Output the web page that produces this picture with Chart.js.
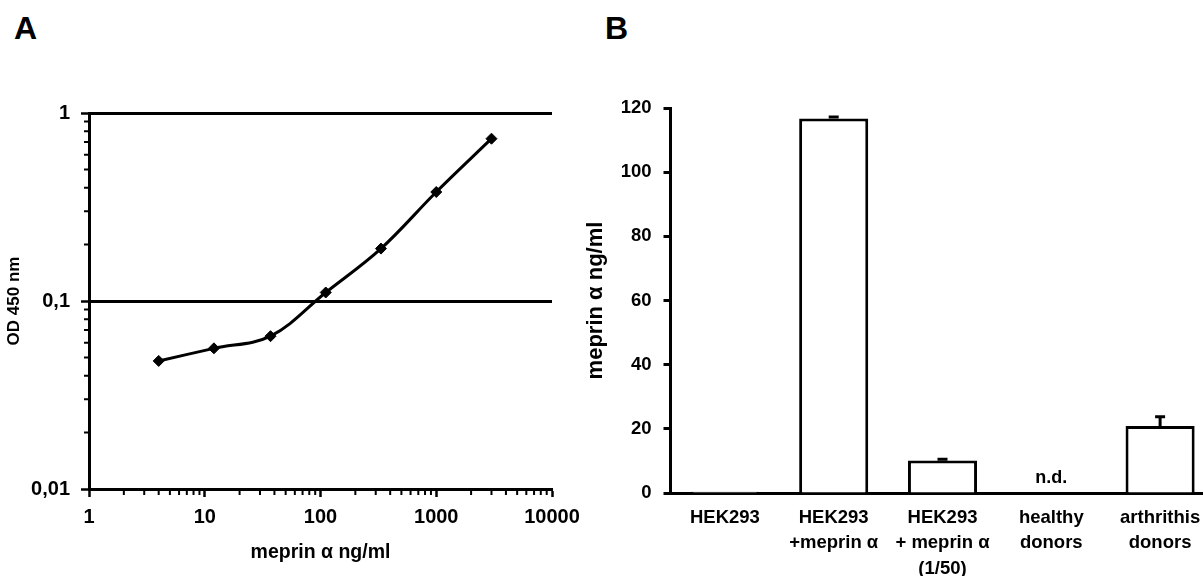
<!DOCTYPE html>
<html>
<head>
<meta charset="utf-8">
<script src="https://cdn.jsdelivr.net/npm/chart.js@4"></script>
<style>
  html, body { margin: 0; padding: 0; background: #fff; overflow: hidden; }
  body { width: 1203px; height: 576px; position: relative; font-family: "Liberation Sans", Arial, sans-serif; }
  .panel { position: absolute; font-weight: bold; font-size: 32px; line-height: 32px; color: #000; }
  #odChart { position: absolute; left: 0; top: 0; }
  #barChart { position: absolute; left: 580px; top: 0; }
</style>
</head>
<body>
<div class="panel" style="left:14px; top:12px;">A</div>
<div class="panel" style="left:605px; top:12px;">B</div>
<canvas id="odChart" width="600" height="576"></canvas>
<canvas id="barChart" width="650" height="576"></canvas>
<script>
/** data, panel A (standard curve) **/
var concentrations = [4, 12, 37, 111, 333, 1000, 3000];
var odValues = [0.048, 0.056, 0.065, 0.111, 0.19, 0.38, 0.73];
var xTicksA = [1, 10, 100, 1000, 10000];
var yTicksA = [0.01, 0.1, 1];

/** data, panel B (samples) **/
var sampleLabels = [
  ['HEK293'],
  ['HEK293', '+meprin α'],
  ['HEK293', '+ meprin α', '(1/50)'],
  ['healthy', 'donors'],
  ['arthrithis', 'donors']
];
var meprinLevels = [0.4, 116.7, 10.1, null, 20.9];
var meprinErrors = [0, 0.5, 0.4, null, 2.9];
var notDetected = [false, false, false, true, false];
var yTicksB = [0, 20, 40, 60, 80, 100, 120];

var FONT = '"Liberation Sans", Arial, sans-serif';
Chart.defaults.font.family = FONT;
Chart.defaults.color = '#000';

// small ticks between decades on the log axes
var minorTicks = {
  id: 'minorTicks',
  afterDraw: function(chart) {
    var ctx = chart.ctx;
    var xs = chart.scales.x, ys = chart.scales.y;
    ctx.save();
    ctx.strokeStyle = '#000';
    ctx.lineWidth = 2;
    ctx.beginPath();
    for (var d = 1; d < 10000; d *= 10) {
      for (var m = 2; m <= 9; m++) {
        var px = xs.getPixelForValue(d * m);
        ctx.moveTo(px, xs.top);
        ctx.lineTo(px, xs.top + 6);
      }
    }
    for (var e = 0.01; e < 1; e *= 10) {
      for (var k = 2; k <= 9; k++) {
        var py = ys.getPixelForValue(e * k);
        ctx.moveTo(ys.right, py);
        ctx.lineTo(ys.right - 5, py);
      }
    }
    ctx.stroke();
    ctx.restore();
  }
};

var ctxA = document.getElementById('odChart');
var odChart = new Chart(ctxA, {
  type: 'line',
  data: {
    datasets: [{
      data: concentrations.map(function(c, i) { return {x: c, y: odValues[i]}; }),
      borderColor: '#000',
      borderWidth: 3,
      tension: 0.35,
      pointStyle: 'rectRot',
      pointRadius: 5.5,
      pointBackgroundColor: '#000',
      pointBorderColor: '#000',
      pointBorderWidth: 1,
      fill: false
    }]
  },
  options: {
    responsive: false,
    maintainAspectRatio: false,
    animation: false,
    events: [],
    layout: { padding: { left: 0, top: 113, right: 48, bottom: 0 } },
    plugins: { legend: { display: false }, tooltip: { enabled: false } },
    scales: {
      x: {
        type: 'logarithmic',
        min: 1, max: 10000,
        afterBuildTicks: function(scale) { scale.ticks = xTicksA.map(function(v) { return {value: v}; }); },
        afterFit: function(scale) { scale.height = 87; },
        grid: { drawOnChartArea: false, drawTicks: true, tickLength: 8, tickColor: '#000', tickWidth: 2.5 },
        border: { color: '#000', width: 3 },
        ticks: {
          autoSkip: false, maxRotation: 0, padding: 8,
          font: { size: 20, weight: 'bold' },
          callback: function(v) { return String(v); }
        },
        title: { display: true, text: 'meprin α ng/ml', font: { size: 19.5, weight: 'bold' }, padding: { top: 4, bottom: 12 } }
      },
      y: {
        type: 'logarithmic',
        min: 0.01, max: 1,
        afterBuildTicks: function(scale) { scale.ticks = yTicksA.map(function(v) { return {value: v}; }); },
        afterFit: function(scale) { scale.width = 89; },
        grid: {
          drawOnChartArea: true, drawTicks: true, tickLength: 8, tickColor: '#000', tickWidth: 2.5,
          lineWidth: 3,
          color: function(c) { return c.tick && c.tick.value > 0.011 ? '#000' : 'rgba(0,0,0,0)'; }
        },
        border: { color: '#000', width: 3 },
        ticks: {
          autoSkip: false, padding: 11,
          font: { size: 20, weight: 'bold' },
          callback: function(v) { return String(v).replace('.', ','); }
        },
        title: { display: true, text: 'OD 450 nm', font: { size: 17, weight: 'bold' }, padding: { top: 4, bottom: 4 } }
      }
    }
  },
  plugins: [minorTicks]
});

// error bars + "n.d." for the bar chart
var barExtras = {
  id: 'barExtras',
  afterDatasetsDraw: function(chart) {
    var ctx = chart.ctx;
    var meta = chart.getDatasetMeta(0);
    var ys = chart.scales.y, xs = chart.scales.x;
    ctx.save();
    ctx.strokeStyle = '#000';
    ctx.lineWidth = 3;
    meta.data.forEach(function(bar, i) {
      if (meprinLevels[i] == null || !meprinErrors[i]) return;
      var top = ys.getPixelForValue(meprinLevels[i] + meprinErrors[i]);
      var base = ys.getPixelForValue(meprinLevels[i]);
      ctx.beginPath();
      ctx.moveTo(bar.x, base);
      ctx.lineTo(bar.x, top);
      ctx.moveTo(bar.x - 5, top);
      ctx.lineTo(bar.x + 5, top);
      ctx.stroke();
    });
    ctx.fillStyle = '#000';
    ctx.font = 'bold 18px ' + FONT;
    ctx.textAlign = 'center';
    ctx.textBaseline = 'alphabetic';
    notDetected.forEach(function(nd, i) {
      if (!nd) return;
      ctx.fillText('n.d.', xs.getPixelForValue(i), ys.getPixelForValue(0) - 10);
    });
    ctx.restore();
  }
};

var ctxB = document.getElementById('barChart');
var barChart = new Chart(ctxB, {
  type: 'bar',
  data: {
    labels: sampleLabels,
    datasets: [{
      data: meprinLevels,
      backgroundColor: '#fff',
      borderColor: '#000',
      borderWidth: 3,
      borderSkipped: 'bottom',
      categoryPercentage: 1,
      barPercentage: 0.635
    }]
  },
  options: {
    responsive: false,
    maintainAspectRatio: false,
    animation: false,
    events: [],
    layout: { padding: { left: 0, top: 108, right: 15.5, bottom: 0 } },
    plugins: { legend: { display: false }, tooltip: { enabled: false } },
    scales: {
      x: {
        z: 1,
        afterFit: function(scale) { scale.height = 83; },
        grid: { display: false, drawTicks: false },
        border: { color: '#000', width: 3 },
        ticks: {
          autoSkip: false, maxRotation: 0, padding: 12,
          font: { size: 18.5, weight: 'bold', lineHeight: 1.38 }
        }
      },
      y: {
        min: 0, max: 120,
        afterBuildTicks: function(scale) { scale.ticks = yTicksB.map(function(v) { return {value: v}; }); },
        afterFit: function(scale) { scale.width = 90.5; },
        grid: { drawOnChartArea: false, drawTicks: true, tickLength: 7, tickColor: '#000', tickWidth: 3 },
        border: { color: '#000', width: 3 },
        ticks: {
          autoSkip: false, padding: 12,
          font: { size: 18.5, weight: 'bold' }
        },
        title: { display: true, text: 'meprin α ng/ml', font: { size: 22, weight: 'bold' }, padding: { top: 3, bottom: 4 } }
      }
    }
  },
  plugins: [barExtras]
});
</script>
</body>
</html>
